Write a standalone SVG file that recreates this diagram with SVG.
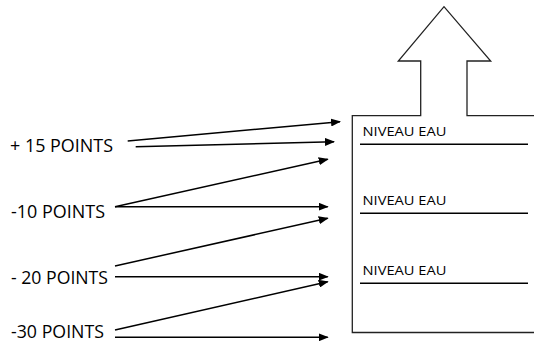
<svg xmlns="http://www.w3.org/2000/svg" width="534" height="345" viewBox="0 0 534 345">
<style>
.lbl{font-family:"Open Sans","Liberation Sans",sans-serif;font-size:18px;fill:#000}
.lvl{font-family:"Open Sans","Liberation Sans",sans-serif;font-size:13.5px;fill:#000}
.ln{stroke:#000;stroke-width:1.5;fill:none}
.ol{stroke:#222;stroke-width:1.3;fill:none}
.ar{stroke:#000;stroke-width:1.5;fill:none;marker-end:url(#ah)}
</style>
<defs>
<marker id="ah" markerWidth="10" markerHeight="8" refX="9" refY="4" orient="auto" markerUnits="userSpaceOnUse">
<path d="M0,0 L10,4 L0,8 Z" fill="#000"/>
</marker>
</defs>
<rect width="534" height="345" fill="#fff"/>
<g id="tank">
<path class="ol" d="M534,115.7 H467 V61 H490.7 L444,6.7 L398.3,61 H420.7 V115.7 H352.3 V332.5 H534"/>
</g>
<g id="level1">
<text class="lvl" x="362.5" y="136" textLength="84" lengthAdjust="spacingAndGlyphs">NIVEAU EAU</text>
<line class="ln" x1="360" y1="144.3" x2="528" y2="144.3" stroke-width="1"/>
</g>
<g id="level2">
<text class="lvl" x="362.5" y="205" textLength="84" lengthAdjust="spacingAndGlyphs">NIVEAU EAU</text>
<line class="ln" x1="360" y1="213.3" x2="528" y2="213.3" stroke-width="1"/>
</g>
<g id="level3">
<text class="lvl" x="362.5" y="275" textLength="84" lengthAdjust="spacingAndGlyphs">NIVEAU EAU</text>
<line class="ln" x1="360" y1="283.3" x2="528" y2="283.3" stroke-width="1"/>
</g>
<g id="p15"><text class="lbl" x="10" y="151.5" textLength="103" lengthAdjust="spacingAndGlyphs">+ 15 POINTS</text></g>
<g id="m10"><text class="lbl" x="11" y="218" textLength="94" lengthAdjust="spacingAndGlyphs">-10 POINTS</text></g>
<g id="m20"><text class="lbl" x="11" y="284" textLength="97" lengthAdjust="spacingAndGlyphs">- 20 POINTS</text></g>
<g id="m30"><text class="lbl" x="11" y="337.5" textLength="93" lengthAdjust="spacingAndGlyphs">-30 POINTS</text></g>
<g id="connectors">
<line class="ar" x1="127.7" y1="141" x2="340" y2="121.7"/>
<line class="ar" x1="135.7" y1="146.7" x2="334" y2="141.7"/>
<line class="ar" x1="115" y1="206.7" x2="327.7" y2="159.3"/>
<line class="ar" x1="115" y1="206.7" x2="327.7" y2="206.7"/>
<line class="ar" x1="115" y1="266" x2="327.7" y2="218.3"/>
<line class="ar" x1="115" y1="276.7" x2="327.7" y2="276.7"/>
<line class="ar" x1="115" y1="330" x2="327.7" y2="281.7"/>
<line class="ar" x1="115" y1="337.3" x2="327.7" y2="337.3"/>
</g>
</svg>
